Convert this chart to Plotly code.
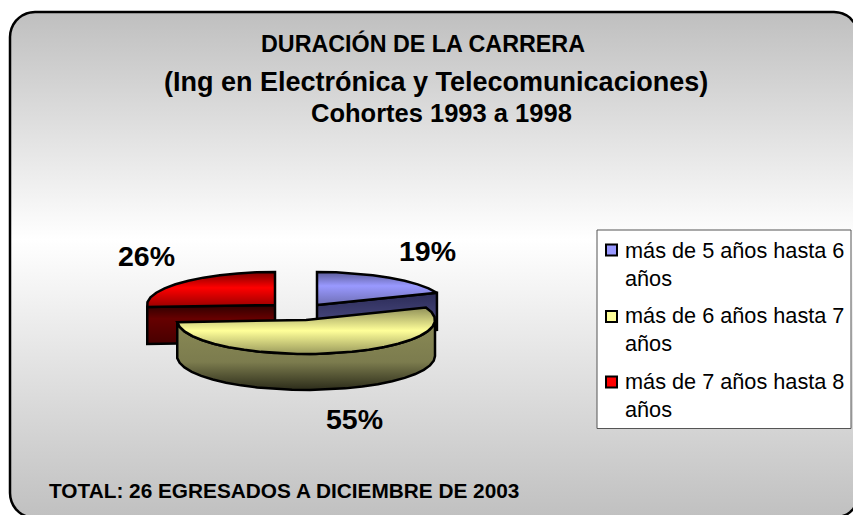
import numpy as np
import plotly.graph_objects as go

# ---- data ----
CATEGORIES = ["más de 5 años hasta 6 años", "más de 6 años hasta 7 años", "más de 7 años hasta 8 años"]
LEGEND_LINES = [["más de 5 años hasta 6", "años"], ["más de 6 años hasta 7", "años"], ["más de 7 años hasta 8", "años"]]
VALUES = [19, 55, 26]
TITLE_LINES = ["DURACIÓN DE LA CARRERA", "(Ing en Electrónica y Telecomunicaciones)", "Cohortes 1993 a 1998"]
FOOTNOTE = "TOTAL: 26 EGRESADOS A DICIEMBRE DE 2003"

# ---- pixel-space layout ----
W, H = 853, 515
FONT = "Liberation Sans"
APEX = [(317, 305), (306, 320), (275, 305)]
RX = [129, 129, 128]
RY = [33, 34, 33]
DEPTH = [37, 36, 37]
STEP = 8.0
LABEL_POS = [(427, 251), (354, 419), (146, 256)]
TITLE_Y = [43, 82, 113]
TITLE_X = [423, 436, 441]
TITLE_SIZE = [23.3, 27, 25.5]
LEGEND_Y = [(250, 278), (315, 343), (381, 409)]
SWATCH_Y = [250, 316.5, 382]
SWATCH = ["#9999ff", "#ffff99", "#ff0000"]

TOP_GRAD = [
    [[0, "#5c5c99"], [0.42, "#9999ff"], [1, "#6f6fb5"]],
    [[0, "#8f8f58"], [0.5, "#ffff99"], [1, "#9a9a5c"]],
    [[0, "#7a0000"], [0.45, "#ff0000"], [1, "#990000"]],
]
WALL_GRAD = [
    [[0, "#2b2b57"], [1, "#5a5a96"]],
    [[0, "#8a8a55"], [0.6, "#7c7c4e"], [1, "#2c2c1a"]],
    [[0, "#2e0000"], [0.35, "#660000"], [1, "#470000"]],
]


def rim(i, t, dz=0.0):
    t = np.radians(np.asarray(t, dtype=float))
    return APEX[i][0] + RX[i] * np.sin(t), APEX[i][1] - RY[i] * np.cos(t) + dz


def arc(a, b):
    n = max(2, int(abs(b - a) / STEP) + 1)
    return np.linspace(a, b, n)


def poly(x, y, cs, name="", lw=2.5):
    x, y = list(x), list(y)
    return go.Scatter(
        x=x + x[:1], y=y + y[:1], mode="lines", fill="toself", name=name,
        line=dict(color="black", width=lw), hoverinfo="skip", showlegend=False,
        fillgradient=dict(type="vertical", colorscale=cs, start=min(y), stop=max(y)),
    )


fig = go.Figure()

# background rounded panel
L, T, R, B, r = 10, 12, 859, 518, 25
ang = np.radians(np.arange(0, 91, 10))
bx = np.r_[L + r - r * np.cos(ang), R - r + r * np.sin(ang), R - r + r * np.cos(ang), L + r - r * np.sin(ang)]
by = np.r_[T + r - r * np.sin(ang), T + r - r * np.cos(ang), B - r + r * np.sin(ang), B - r + r * np.cos(ang)]
fig.add_trace(go.Scatter(
    x=list(bx) + [bx[0]], y=list(by) + [by[0]], mode="lines", fill="toself",
    line=dict(color="black", width=2.5), hoverinfo="skip", showlegend=False,
    fillgradient=dict(type="vertical", start=T, stop=B,
                      colorscale=[[0, "#bfbfbf"], [0.45, "#ffffff"], [1, "#c0c0c0"]]),
))

# slice angles come from the values
total = sum(VALUES)
edges = np.r_[0, np.cumsum(VALUES)] / total * 360
START = edges[:-1]
END = edges[1:]

# radial cut faces of red and blue (drawn behind the yellow slice)
for i, t in ((2, START[2]), (0, END[0])):
    rx0, ry0 = rim(i, t)
    fig.add_trace(poly([APEX[i][0], rx0, rx0, APEX[i][0]],
                       [APEX[i][1], ry0, ry0 + DEPTH[i], APEX[i][1] + DEPTH[i]], WALL_GRAD[i]))

# top faces of red and blue
for i in (2, 0):
    ts = arc(START[i], END[i])
    x, y = rim(i, ts)
    fig.add_trace(poly(np.r_[APEX[i][0], x], np.r_[APEX[i][1], y], TOP_GRAD[i], name=CATEGORIES[i]))

# yellow slice in front: outer wall, then top face
i = 1
ts = arc(max(START[i], 90), min(END[i], 270))
x, y = rim(i, ts)
xb, yb = rim(i, ts, DEPTH[i])
fig.add_trace(poly(np.r_[x, xb[::-1]], np.r_[y, yb[::-1]], WALL_GRAD[i]))
ts = arc(START[i], END[i])
x, y = rim(i, ts)
fig.add_trace(poly(np.r_[APEX[i][0], x], np.r_[APEX[i][1], y], TOP_GRAD[i], name=CATEGORIES[i]))

# legend box
fig.add_trace(go.Scatter(
    x=[597, 851, 851, 597, 597], y=[230, 230, 428.5, 428.5, 230], mode="lines", fill="toself",
    fillcolor="white", line=dict(color="#555555", width=1), hoverinfo="skip", showlegend=False,
))
annotations = []


def text(x, y, s, size, bold=False, anchor="center"):
    annotations.append(dict(xref="x", yref="y", x=x, y=y, text=f"<b>{s}</b>" if bold else s,
                            showarrow=False, xanchor=anchor, yanchor="middle",
                            font=dict(family=FONT, size=size, color="black")))


for s, x, y, z in zip(TITLE_LINES, TITLE_X, TITLE_Y, TITLE_SIZE):
    text(x, y, s, z, True)
for v, (x, y) in zip(VALUES, LABEL_POS):
    text(x, y, f"{v}%", 28.5, True)
text(47, 490, FOOTNOTE, 20.8, True, "left")
for lines, ys in zip(LEGEND_LINES, LEGEND_Y):
    for s, y in zip(lines, ys):
        text(623, y, s, 21.7, False, "left")

fig.add_trace(go.Scatter(
    x=[611.5] * 3, y=SWATCH_Y, mode="markers", hoverinfo="skip", showlegend=False,
    marker=dict(symbol="square", size=11, color=SWATCH, line=dict(color="black", width=2)),
))

fig.update_layout(
    width=W, height=H, margin=dict(l=0, r=0, t=0, b=0), showlegend=False,
    paper_bgcolor="white", plot_bgcolor="white", annotations=annotations,
    xaxis=dict(range=[0, W], visible=False, fixedrange=True),
    yaxis=dict(range=[H, 0], visible=False, fixedrange=True),
)
fig.write_html("out.html", config=dict(displayModeBar=False),
               post_script="document.body.style.margin='0';document.documentElement.style.overflow='hidden';")
